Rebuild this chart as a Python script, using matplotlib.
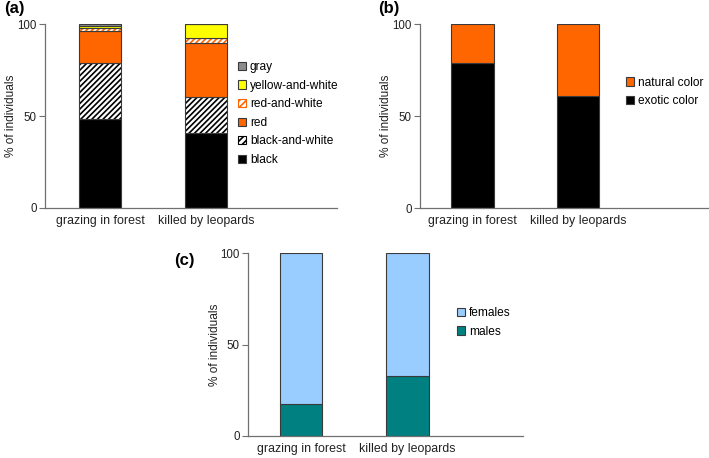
import matplotlib
matplotlib.use("Agg")
import matplotlib.pyplot as plt
from matplotlib.patches import Patch

plt.rcParams['font.family'] = ['Liberation Sans', 'DejaVu Sans']
plt.rcParams['hatch.linewidth'] = 1.2

groups = ["grazing in forest", "killed by leopards"]

# Panel (a): coat colours (% of individuals), bottom to top
color_names = ["black", "black-and-white", "red", "red-and-white", "yellow-and-white", "gray"]
black = [48.5, 41.0]
black_and_white = [30.7, 19.7]
red = [17.5, 29.1]
red_and_white = [1.5, 3.1]
yellow_and_white = [1.0, 7.1]
gray = [0.8, 0.0]

# Panel (b): exotic vs natural colour
bcat_names = ["exotic color", "natural color"]
exotic = [79.1, 61.0]
natural = [20.9, 39.0]

# Panel (c): sex
ccat_names = ["males", "females"]
males = [17.5, 32.8]
females = [82.5, 67.2]

yticks = [0, 50, 100]

W, H = 709, 458
fig = plt.figure(figsize=(W / 100, H / 100), dpi=100)

def axes_px(x0, x1, y_top, y_bot):
    return fig.add_axes([x0 / W, 1 - y_bot / H, (x1 - x0) / W, (y_bot - y_top) / H])

EDGE = "#3a3a3a"
AX = "#707070"
TXT = "#222222"

def style(ax, xlim):
    ax.set_xlim(*xlim)
    ax.set_ylim(0, 100)
    ax.set_yticks(yticks)
    ax.set_xticks([0, 1])
    ax.set_xticklabels(groups, fontsize=8.9, color=TXT)
    ax.tick_params(axis='x', length=0, pad=5)
    ax.tick_params(axis='y', length=4, width=0.8, color=AX, labelsize=8.3, labelcolor=TXT, pad=2)
    for s in ["top", "right"]:
        ax.spines[s].set_visible(False)
    for s in ["left", "bottom"]:
        ax.spines[s].set_color(AX)
        ax.spines[s].set_linewidth(0.9)
    ax.set_ylabel("% of individuals", fontsize=8.6, labelpad=0, color=TXT)

def legend(ax, h, l, ax_x, ax_y):
    ax.legend(h, l, loc="upper left", bbox_to_anchor=(ax_x, ax_y),
              frameon=False, fontsize=8.6, handlelength=0.7, handleheight=0.7,
              handletextpad=0.3, labelspacing=0.55, borderaxespad=0, borderpad=0)

x = [0, 1]
bw = 0.4

# ---------- (a)
axa = axes_px(45, 337, 24.5, 208)
series_a = [black, black_and_white, red, red_and_white, yellow_and_white, gray]
face = ["black", "white", "#FF6600", "white", "#FFFF00", "#8C8C8C"]
hatch_col = [None, "black", None, "#FF6600", None, None]
hatches = [None, "//////", None, "//////", None, None]
bottom = [0, 0]
handles = []
for vals, fc, hc, ht, name in zip(series_a, face, hatch_col, hatches, color_names):
    if ht:
        axa.bar(x, vals, bw, bottom=bottom, color=fc, edgecolor=hc, hatch=ht, linewidth=0)
        axa.bar(x, vals, bw, bottom=bottom, fill=False, edgecolor=EDGE, linewidth=0.8)
        handles.append(Patch(facecolor=fc, edgecolor=hc, hatch='/////', linewidth=0.8, label=name))
    else:
        axa.bar(x, vals, bw, bottom=bottom, color=fc, edgecolor=EDGE, linewidth=0.8)
        handles.append(Patch(facecolor=fc, edgecolor=EDGE, linewidth=0.8, label=name))
    bottom = [b + v for b, v in zip(bottom, vals)]
style(axa, (-0.519, 2.236))
legend(axa, handles[::-1], color_names[::-1], 0.661, 0.80)
fig.text(4 / W, 1 - 9 / H, "(a)", fontsize=12, fontweight="bold", va="center", ha="left")

# ---------- (b)
axb = axes_px(420, 708, 24.3, 208.3)
axb.bar(x, exotic, bw, color="black", edgecolor=EDGE, linewidth=0.8, label=bcat_names[0])
axb.bar(x, natural, bw, bottom=exotic, color="#FF6600", edgecolor=EDGE, linewidth=0.8, label=bcat_names[1])
style(axb, (-0.498, 2.232))
h, l = axb.get_legend_handles_labels()
legend(axb, h[::-1], l[::-1], 0.715, 0.715)
fig.text(378 / W, 1 - 8 / H, "(b)", fontsize=12, fontweight="bold", va="center", ha="left")

# ---------- (c)
axc = axes_px(248.3, 523, 253.3, 436)
axc.bar(x, males, bw, color="#008080", edgecolor=EDGE, linewidth=0.8, label=ccat_names[0])
axc.bar(x, females, bw, bottom=males, color="#99CCFF", edgecolor=EDGE, linewidth=0.8, label=ccat_names[1])
style(axc, (-0.498, 2.087))
h, l = axc.get_legend_handles_labels()
legend(axc, h[::-1], l[::-1], 0.759, 0.705)
fig.text(174 / W, 1 - 261 / H, "(c)", fontsize=12, fontweight="bold", va="center", ha="left")

fig.savefig("out.png", dpi=100)
